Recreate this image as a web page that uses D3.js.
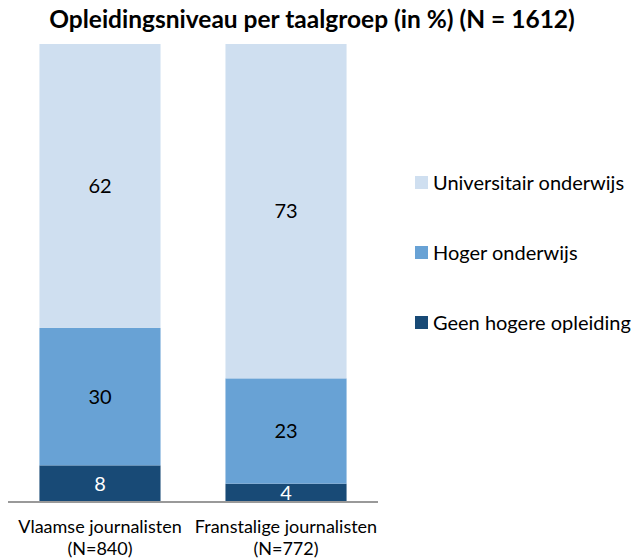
<!DOCTYPE html>
<html>
<head>
<meta charset="utf-8">
<script src="https://cdn.jsdelivr.net/npm/d3@7"></script>
<style>
  body { margin: 0; background: #fff; }
  text { font-family: Lato, "Open Sans", sans-serif; }
</style>
</head>
<body>
<div id="chart"></div>
<script>
// Data
var groups = ["Vlaamse journalisten", "Franstalige journalisten"];
var groupN = ["(N=840)", "(N=772)"];
var levels = ["Geen hogere opleiding", "Hoger onderwijs", "Universitair onderwijs"];
var geenHogere = [8, 4];
var hogerOnderwijs = [30, 23];
var universitair = [62, 73];

var colors = {"Geen hogere opleiding": "#184a76", "Hoger onderwijs": "#68a2d5", "Universitair onderwijs": "#cfdff0"};
var labelColors = {"Geen hogere opleiding": "#fff", "Hoger onderwijs": "#000", "Universitair onderwijs": "#000"};

var W = 632, H = 560;
var svg = d3.select("#chart").append("svg")
  .attr("width", W).attr("height", H);

// Title
svg.append("text")
  .attr("x", 312).attr("y", 28)
  .attr("text-anchor", "middle")
  .style("font-size", "24.5px").style("font-weight", "bold")
  .text("Opleidingsniveau per taalgroep (in %) (N = 1612)");

var rows = groups.map(function (g, i) {
  return {group: g, "Geen hogere opleiding": geenHogere[i], "Hoger onderwijs": hogerOnderwijs[i], "Universitair onderwijs": universitair[i]};
});
var stacked = d3.stack().keys(levels)(rows);

var x = d3.scaleBand().domain(groups).range([8, 378]).paddingInner(0.349).paddingOuter(0.169);
var y = d3.scaleLinear().domain([0, 100]).range([502, 44]);

var layer = svg.selectAll(".layer").data(stacked).enter().append("g")
  .attr("class", "layer")
  .attr("fill", function (d) { return colors[d.key]; });

layer.selectAll("rect").data(function (d) { return d; }).enter().append("rect")
  .attr("x", function (d) { return x(d.data.group); })
  .attr("y", function (d) { return y(d[1]); })
  .attr("width", x.bandwidth())
  .attr("height", function (d) { return y(d[0]) - y(d[1]); });

// value labels
stacked.forEach(function (s) {
  svg.selectAll(null).data(s).enter().append("text")
    .attr("x", function (d) { return x(d.data.group) + x.bandwidth() / 2; })
    .attr("y", function (d) { return (y(d[0]) + y(d[1])) / 2 + 7; })
    .attr("text-anchor", "middle")
    .attr("fill", labelColors[s.key])
    .style("font-size", "20px")
    .text(function (d) { return d[1] - d[0]; });
});

// baseline axis
svg.append("g")
  .attr("transform", "translate(0,502)")
  .call(d3.axisBottom(x).tickSize(0).tickFormat(""))
  .call(function (g) { g.select(".domain").attr("stroke", "#999").attr("stroke-width", 2).attr("d", "M8,0H378"); });

// category labels (two separate lines)
groups.forEach(function (g, i) {
  var cx = x(g) + x.bandwidth() / 2;
  svg.append("text")
    .attr("x", cx).attr("y", 533)
    .attr("text-anchor", "middle")
    .style("font-size", "18px")
    .text(g);
  svg.append("text")
    .attr("x", cx).attr("y", 555)
    .attr("text-anchor", "middle")
    .style("font-size", "18px")
    .text(groupN[i]);
});

// legend
var legendOrder = ["Universitair onderwijs", "Hoger onderwijs", "Geen hogere opleiding"];
var legend = svg.selectAll(".legend").data(legendOrder).enter().append("g")
  .attr("class", "legend")
  .attr("transform", function (d, i) { return "translate(415," + (176 + i * 70) + ")"; });
legend.append("rect")
  .attr("width", 13).attr("height", 13)
  .attr("fill", function (d) { return colors[d]; });
legend.append("text")
  .attr("x", 18).attr("y", 14)
  .style("font-size", "20px")
  .text(function (d) { return d; });
</script>
</body>
</html>
